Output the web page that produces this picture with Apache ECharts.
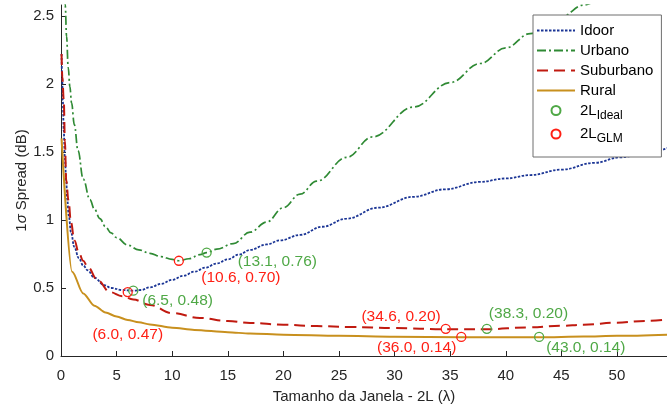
<!DOCTYPE html>
<html>
<head>
<meta charset="utf-8">
<script src="https://cdn.jsdelivr.net/npm/echarts@6/dist/echarts.min.js"></script>
<style>html,body{margin:0;padding:0;background:#fff}#c{width:667px;height:409px}</style>
</head>
<body>
<div id="c"></div>
<script>
const idoorX = [0.05,0.1,0.16,0.25,0.35,0.47,0.56,0.7,0.9,1.2,1.6,2.0,2.4,3.0,3.9,4.5,5.5,6.5,7.2,8,9,10,11,12,13,14,15,16,17,18.5,19.7,21.5,23.5,25.7,28.5,31.7,34.5,37.7,40,42.2,45,48,50.3,52.5,54.6];
const idoorY = [2.22,2.05,1.88,1.65,1.45,1.29,1.15,1.03,0.91,0.80,0.72,0.665,0.63,0.575,0.52,0.50,0.485,0.48,0.485,0.505,0.53,0.56,0.59,0.62,0.65,0.68,0.71,0.745,0.78,0.82,0.85,0.89,0.95,1.01,1.09,1.17,1.225,1.28,1.305,1.33,1.37,1.42,1.46,1.49,1.53];

const urbanoX = [0.3,0.38,0.5,0.65,0.8,0.95,1.2,1.53,2.0,2.6,3.0,3.5,4.0,4.5,5.0,6.0,7.0,8.0,9.0,10.0,10.6,11.5,12.5,13.1,14,15.5,17,18.5,20,21.5,23,25.7,28,31.7,35,37.7,40,42.2,45,47,49];
const urbanoY = [2.75,2.58,2.35,2.12,1.98,1.86,1.70,1.51,1.30,1.15,1.08,1.01,0.95,0.905,0.87,0.815,0.78,0.755,0.73,0.71,0.70,0.715,0.745,0.76,0.785,0.826,0.91,0.985,1.09,1.19,1.285,1.46,1.61,1.83,2.01,2.15,2.265,2.37,2.495,2.58,2.67];

const subX = [0.05,0.12,0.25,0.35,0.47,0.67,0.9,1.2,1.6,2.0,2.4,3.3,4.4,5.5,6.5,8,10,12.5,15,17,20,23,26,30,34.6,38.3,42,45,47,50,52.5,54.6];
const subY = [2.22,2.05,1.88,1.58,1.29,1.145,0.98,0.85,0.76,0.70,0.655,0.556,0.47,0.44,0.415,0.375,0.315,0.28,0.258,0.243,0.23,0.22,0.213,0.205,0.197,0.197,0.21,0.222,0.23,0.245,0.258,0.27];

const ruralX = [0.05,1,2,3,4,5,6,7,8,10,12,15,17,20,25,30,36,40,43,47,50,54.6];
const ruralY = [1.6,0.62,0.46,0.37,0.32,0.29,0.265,0.248,0.232,0.208,0.192,0.175,0.165,0.157,0.148,0.142,0.137,0.137,0.138,0.143,0.148,0.157];

const idealX = [6.5, 13.1, 38.3, 43.0];
const idealY = [0.48, 0.76, 0.20, 0.14];
const glmX = [6.0, 10.6, 34.6, 36.0];
const glmY = [0.47, 0.70, 0.20, 0.14];

const xTicks = [0,5,10,15,20,25,30,35,40,45,50];
const yTicks = [0,0.5,1,1.5,2,2.5];

const idealLabelPos = [
  {align:'left', offset:[9,10]},
  {align:'left', offset:[31,9]},
  {align:'left', offset:[2,-15]},
  {align:'left', offset:[7,11]}
];
const glmLabelPos = [
  {align:'center', offset:[0,43]},
  {align:'center', offset:[62,17]},
  {align:'right', offset:[-5,-12.5]},
  {align:'right', offset:[-5,11]}
];

const FONT = "'Liberation Sans', Arial, Helvetica, sans-serif";
const AX = '#262626';
const C_IDOOR = '#1b3595';
const C_URB = '#2f8a34';
const C_SUB = '#c01a10';
const C_RUR = '#c8901e';
const C_IDEAL = '#4fa846';
const C_GLM = '#ff1f14';

function zip(xs, ys){ return xs.map((x,i)=>[x, ys[i]]); }
function pointData(xs, ys, pos){
  return xs.map((x,i)=>({
    value:[x, ys[i]],
    label:{ show:true, position:'inside', align:pos[i].align, verticalAlign:'middle', offset:pos[i].offset,
      formatter: '(' + x.toFixed(1) + ', ' + ys[i].toFixed(2) + ')' }
  }));
}
const hiddenSym = {color:'rgba(0,0,0,0)', borderColor:'rgba(0,0,0,0)', borderWidth:0, opacity:0};

const chart = echarts.init(document.getElementById('c'), null, {renderer:'canvas'});
chart.setOption({
  animation:false,
  backgroundColor:'#fff',
  textStyle:{fontFamily:FONT},
  grid:{left:61, right:0, top:5, bottom:53, containLabel:false},
  xAxis:{
    type:'value', min:0, max:54.5, interval:5,
    name:'Tamanho da Janela - 2L (λ)', nameLocation:'middle', nameGap:33, nameMoveOverlap:false,
    nameTextStyle:{color:AX, fontSize:15, fontFamily:FONT},
    axisLine:{show:true, onZero:false, lineStyle:{color:AX, width:1}},
    axisTick:{show:true, inside:true, length:5, lineStyle:{color:AX}},
    axisLabel:{color:AX, fontSize:15, margin:12, fontFamily:FONT, showMaxLabel:false,
      formatter: v => xTicks.includes(v) ? String(v) : ''},
    splitLine:{show:false}
  },
  yAxis:{
    type:'value', min:0, max:2.58, interval:0.5,
    name:'1{i|σ} Spread (dB)', nameLocation:'middle', nameGap:32, nameRotate:90, nameMoveOverlap:false,
    nameTextStyle:{color:AX, fontSize:15, fontFamily:FONT, rich:{i:{fontStyle:'italic', fontSize:15, color:AX, fontFamily:FONT}}},
    axisLine:{show:true, onZero:false, lineStyle:{color:AX, width:1}},
    axisTick:{show:true, inside:true, length:5, lineStyle:{color:AX}},
    axisLabel:{color:AX, fontSize:15, margin:7, fontFamily:FONT, showMaxLabel:false,
      formatter: v => yTicks.includes(v) ? String(v) : ''},
    splitLine:{show:false}
  },
  legend:{
    orient:'vertical', left:533, top:15,
    padding:[8,8,12,3], itemGap:5, itemWidth:38, itemHeight:9,
    backgroundColor:'#fff', borderColor:'#6e6e6e', borderWidth:1, borderRadius:0,
    textStyle:{color:'#000', fontSize:15, fontFamily:FONT, padding:[0,0,0,0],
      rich:{s:{fontSize:12, fontFamily:FONT, color:'#000', padding:[10,0,0,0]}}},
    formatter: n => n.indexOf('2L_')===0 ? '2L{s|' + n.slice(3) + '}' : n,
    data:[
      {name:'Idoor', itemStyle:hiddenSym},
      {name:'Urbano', itemStyle:hiddenSym},
      {name:'Suburbano', itemStyle:hiddenSym},
      {name:'Rural', itemStyle:hiddenSym},
      {name:'2L_Ideal'},
      {name:'2L_GLM'}
    ]
  },
  series:[
    {name:'Idoor', type:'line', data:zip(idoorX, idoorY), symbol:'none', showSymbol:false, smooth:0.4, smoothMonotone:'x', clip:true,
      lineStyle:{color:C_IDOOR, width:1.8, type:[2.5,1.5]}, itemStyle:{color:C_IDOOR}, z:2},
    {name:'Urbano', type:'line', data:zip(urbanoX, urbanoY), symbol:'none', showSymbol:false, smooth:0.4, smoothMonotone:'x', clip:true,
      lineStyle:{color:C_URB, width:1.7, type:[9,3,2,3]}, itemStyle:{color:C_URB}, z:2},
    {name:'Suburbano', type:'line', data:zip(subX, subY), symbol:'none', showSymbol:false, smooth:0.4, smoothMonotone:'x', clip:true,
      lineStyle:{color:C_SUB, width:2, type:[11,6]}, itemStyle:{color:C_SUB}, z:2},
    {name:'Rural', type:'line', data:zip(ruralX, ruralY), symbol:'none', showSymbol:false, smooth:0.3, smoothMonotone:'x', clip:true,
      lineStyle:{color:C_RUR, width:2, type:'solid'}, itemStyle:{color:C_RUR}, z:2},
    {name:'2L_Ideal', type:'scatter', data:pointData(idealX, idealY, idealLabelPos), symbol:'circle', symbolSize:9,
      itemStyle:{color:'rgba(0,0,0,0)', borderColor:C_IDEAL, borderWidth:1.3, opacity:1},
      label:{color:C_IDEAL, fontSize:15.5, fontFamily:FONT}, z:5},
    {name:'2L_GLM', type:'scatter', data:pointData(glmX, glmY, glmLabelPos), symbol:'circle', symbolSize:9,
      itemStyle:{color:'rgba(0,0,0,0)', borderColor:C_GLM, borderWidth:1.3, opacity:1},
      label:{color:C_GLM, fontSize:15.5, fontFamily:FONT}, z:5}
  ]
});
</script>
</body>
</html>
